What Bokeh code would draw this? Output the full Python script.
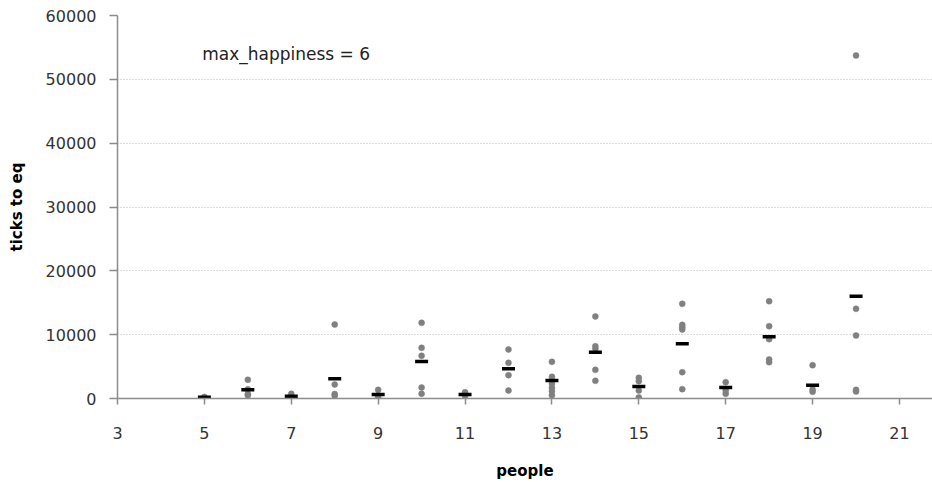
from bokeh.plotting import figure
from bokeh.models import Range1d, FixedTicker, Label, ColumnDataSource
from bokeh.embed import file_html
from bokeh.resources import INLINE

# ---- data ----
people_pts = (
    [5, 5, 5]
    + [6, 6, 6, 6]
    + [7, 7, 7]
    + [8, 8, 8, 8]
    + [9, 9, 9]
    + [10, 10, 10, 10, 10]
    + [11, 11]
    + [12, 12, 12, 12]
    + [13, 13, 13, 13, 13, 13]
    + [14, 14, 14, 14, 14]
    + [15, 15, 15, 15]
    + [16, 16, 16, 16, 16, 16]
    + [17, 17, 17]
    + [18, 18, 18, 18, 18]
    + [19, 19, 19]
    + [20, 20, 20, 20, 20]
)
ticks_pts = (
    [100, 250, 150]
    + [2930, 1450, 700, 500]
    + [740, 300, 100]
    + [11590, 2190, 700, 450]
    + [1360, 500, 200]
    + [11860, 7940, 6690, 1720, 740]
    + [990, 400]
    + [7680, 5590, 3650, 1250]
    + [5750, 3400, 2300, 1680, 1150, 520]
    + [12850, 8200, 7790, 4490, 2770]
    + [3240, 2720, 1250, 160]
    + [14830, 11540, 11170, 10810, 4120, 1460]
    + [2560, 1250, 740]
    + [15240, 11330, 9300, 6110, 5690]
    + [5220, 1410, 1050]
    + [53740, 14050, 9870, 1360, 1100]
)
people_mean = [5, 6, 7, 8, 9, 10, 11, 12, 13, 14, 15, 16, 17, 18, 19, 20]
ticks_mean = [200, 1360, 360, 3080, 630, 5800, 630, 4650, 2820, 7260,
              1880, 8570, 1720, 9660, 2090, 16030]

x_ticks = [3, 5, 7, 9, 11, 13, 15, 17, 19, 21]
y_ticks = [0, 10000, 20000, 30000, 40000, 50000, 60000]
annotation = "max_happiness = 6"

FONT = "DejaVu Sans"

p = figure(width=932, height=482, output_backend="svg", toolbar_location=None,
           x_range=Range1d(3, 21.76), y_range=Range1d(0, 60000),
           min_border_left=117, min_border_right=0, min_border_top=15,
           min_border_bottom=84)
p.outline_line_color = None
p.background_fill_color = "white"
p.border_fill_color = "white"

# grid
p.xgrid.grid_line_color = None
p.ygrid.grid_line_color = "#b8b8b8"
p.ygrid.grid_line_dash = "1 2"
p.ygrid.grid_line_width = 1
p.ygrid.ticker = FixedTicker(ticks=y_ticks)

# axes
for ax in (p.xaxis[0], p.yaxis[0]):
    ax.axis_line_color = "#8c8c8c"
    ax.axis_line_width = 1.5
    ax.major_tick_line_color = "#8c8c8c"
    ax.major_tick_line_width = 1.5
    ax.major_tick_in = 0
    ax.minor_tick_line_color = None
    ax.major_label_text_font = FONT
    ax.major_label_text_font_size = "16px"
    ax.major_label_text_color = "#333333"
    ax.axis_label_text_font = FONT
    ax.axis_label_text_font_size = "15px"
    ax.axis_label_text_font_style = "bold"
    ax.axis_label_text_color = "#000000"

p.xaxis.ticker = FixedTicker(ticks=x_ticks)
p.xaxis.major_tick_out = 6
p.xaxis.major_label_standoff = 22
p.xaxis.axis_label = "people"
p.xaxis.axis_label_standoff = 20

p.yaxis.ticker = FixedTicker(ticks=y_ticks)
p.yaxis.major_tick_out = 8
p.yaxis.major_label_standoff = 13
p.yaxis.axis_label = "ticks to eq"
p.yaxis.axis_label_standoff = 17

pts = ColumnDataSource(dict(x=people_pts, y=ticks_pts))
means = ColumnDataSource(dict(x=people_mean, y=ticks_mean))

p.scatter("x", "y", source=pts, size=6, fill_color="#808080",
          line_color="#808080", line_width=0.5)
p.scatter("x", "y", source=means, marker="dash", size=13,
          line_color="#000000", line_width=3.5)

p.add_layout(Label(x=4.95, y=54000, text=annotation, text_font=FONT,
                   text_font_size="17px", text_color="#222222",
                   text_align="left", text_baseline="middle"))

open("out.html", "w").write(file_html(p, INLINE))
